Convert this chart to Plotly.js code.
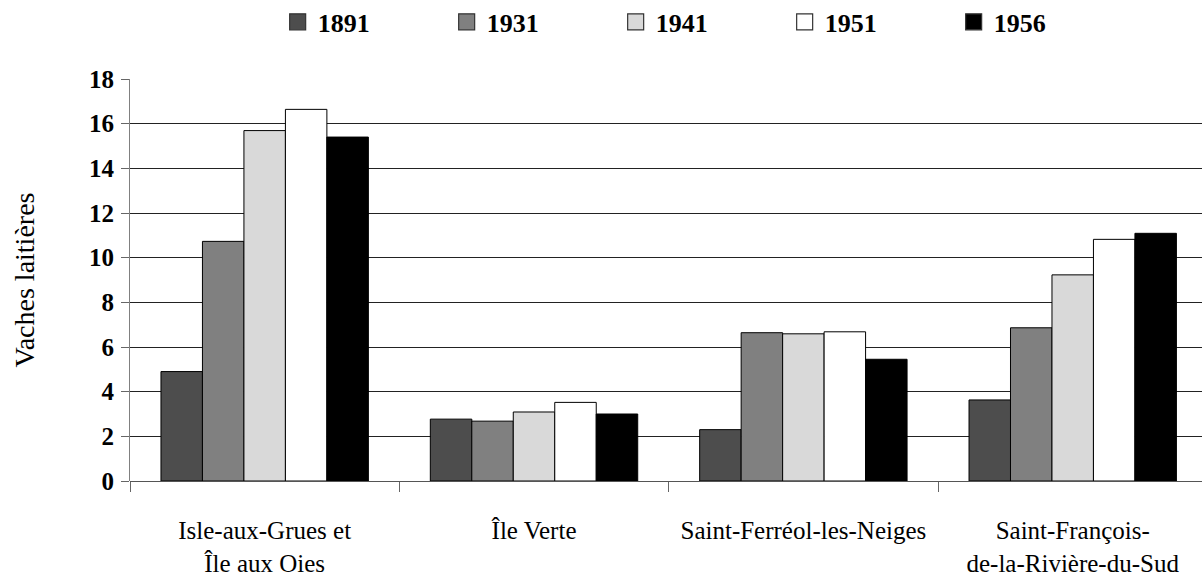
<!DOCTYPE html>
<html>
<head>
<meta charset="utf-8">
<script src="https://cdn.plot.ly/plotly-3.0.1.min.js"></script>
<style>html,body{margin:0;padding:0;background:#fff;}#chart{width:1202px;height:576px;}</style>
</head>
<body>
<div id="chart"></div>
<script>
const categories = ["Isle-aux-Grues et<br>Île aux Oies", "Île Verte", "Saint-Ferréol-les-Neiges", "Saint-François-<br>de-la-Rivière-du-Sud"];
const years = ["1891", "1931", "1941", "1951", "1956"];
const v1891 = [4.9, 2.77, 2.3, 3.63];
const v1931 = [10.73, 2.68, 6.64, 6.86];
const v1941 = [15.69, 3.09, 6.59, 9.23];
const v1951 = [16.64, 3.52, 6.68, 10.82];
const v1956 = [15.4, 3.0, 5.45, 11.09];
const colors = ["#4d4d4d", "#808080", "#d9d9d9", "#ffffff", "#000000"];
const yTicks = [0, 2, 4, 6, 8, 10, 12, 14, 16, 18];

const series = [v1891, v1931, v1941, v1951, v1956];
const traces = series.map((vals, i) => ({
  type: "bar",
  name: years[i],
  x: categories,
  y: vals,
  showlegend: false,
  marker: {color: colors[i], line: {color: "#000", width: 1}}
}));
// legend proxies (square swatches)
years.forEach((yr, i) => {
  traces.push({
    type: "scatter", mode: "markers", name: yr,
    x: [categories[0]], y: [null],
    marker: {symbol: "square", size: 21, color: colors[i], line: {color: "#333", width: 1.2}},
    showlegend: true, hoverinfo: "skip"
  });
});

const serif = "Liberation Serif";
const layout = {
  width: 1202, height: 576,
  font: {family: serif},
  margin: {l: 130, r: 0, t: 79, b: 95, autoexpand: false},
  paper_bgcolor: "#fff", plot_bgcolor: "#fff",
  barmode: "group",
  bargap: 0.23, bargroupgap: 0,
  showlegend: true,
  legend: {
    orientation: "h", xref: "container", yref: "container",
    x: 0.231, xanchor: "left", y: 0.962, yanchor: "middle",
    entrywidth: 124, entrywidthmode: "pixels",
    font: {family: serif, size: 26, color: "#000", weight: "bold"},
    traceorder: "normal", itemsizing: "trace", borderwidth: 0
  },
  xaxis: {
    type: "category", range: [-0.5, 3.48],
    tickson: "boundaries", ticks: "outside", ticklen: 10, tickcolor: "#666",
    ticklabelstandoff: 32,
    showline: false, showgrid: false,
    tickfont: {family: serif, size: 25, color: "#000"}
  },
  yaxis: {
    range: [0, 18], tickvals: yTicks, ticktext: yTicks.map(String),
    showline: true, linecolor: "#808080", linewidth: 1,
    ticks: "outside", ticklen: 8, tickcolor: "#666",
    ticklabelstandoff: 2,
    showgrid: true, gridcolor: "#222", gridwidth: 1,
    zeroline: true, zerolinecolor: "#555", zerolinewidth: 1,
    tickfont: {family: serif, size: 25, color: "#000", weight: "bold"},
    title: {text: "Vaches laitières", font: {family: serif, size: 28, color: "#000"}, standoff: 46}
  }
};
Plotly.newPlot("chart", traces, layout, {displayModeBar: false, staticPlot: true});
</script>
</body>
</html>
